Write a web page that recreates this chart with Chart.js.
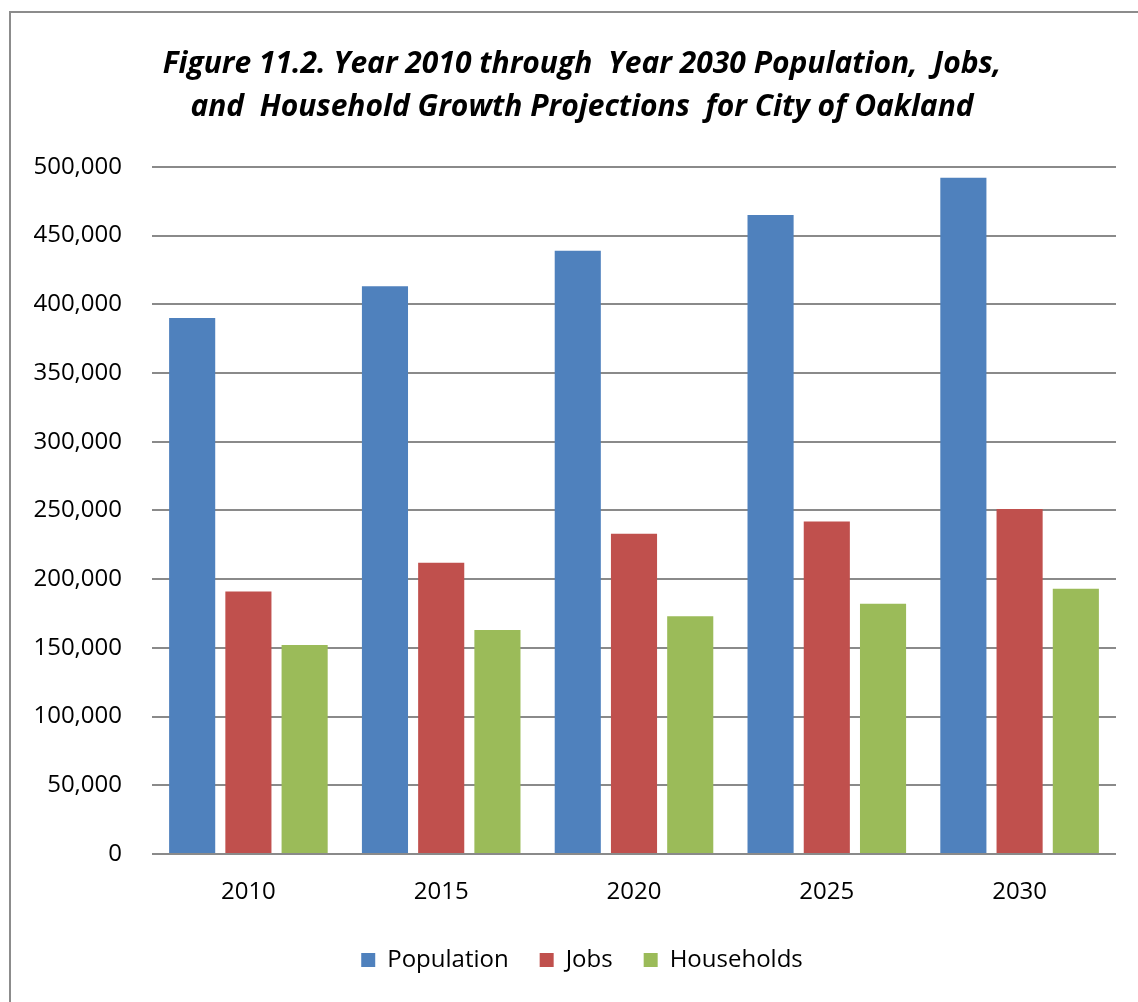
<!DOCTYPE html>
<html>
<head>
<meta charset="utf-8">
<script src="https://cdn.jsdelivr.net/npm/chart.js@4/dist/chart.umd.min.js"></script>
<style>
  html, body { margin: 0; padding: 0; background: #fff; overflow: hidden; }
  #frame { position: absolute; left: 9px; top: 11px; width: 1200px; height: 1100px;
           border-left: 2px solid #8c8c8c; border-top: 2px solid #8c8c8c; }
  #wrap { position: absolute; left: 0; top: 0; width: 1138px; height: 1002px; }
</style>
</head>
<body>
<div id="frame"></div>
<div id="wrap"><canvas id="growth"></canvas></div>
<script>
// categories and series
var years = ['2010', '2015', '2020', '2025', '2030'];
var population = [390000, 413000, 439000, 465000, 492000];
var jobs = [191000, 212000, 233000, 242000, 251000];
var households = [152000, 163000, 173000, 182000, 193000];
var yTicks = [0, 50000, 100000, 150000, 200000, 250000, 300000, 350000, 400000, 450000, 500000];

var titleLines = [
    'Figure 11.2. Year 2010 through  Year 2030 Population,  Jobs,',
    'and  Household Growth Projections  for City of Oakland'
];

var ctx = document.getElementById('growth');
var growthChart = new Chart(ctx, {
    type: 'bar',
    data: {
        labels: years,
        datasets: [
            { label: 'Population', data: population, backgroundColor: '#4F81BD' },
            { label: 'Jobs', data: jobs, backgroundColor: '#C0504D' },
            { label: 'Households', data: households, backgroundColor: '#9BBB59' }
        ]
    },
    options: {
        animation: false,
        responsive: true,
        maintainAspectRatio: false,
        // 一組的寬度
        categoryPercentage: 0.875,
        barPercentage: 0.82,
        layout: {
            padding: { top: 20, left: 48, right: 22, bottom: 20 }
        },
        plugins: {
            title: {
                display: true,
                text: titleLines,
                color: '#000',
                font: { family: 'Open Sans', size: 30, weight: 'bold', style: 'italic', lineHeight: 1.43 },
                padding: { top: 23, bottom: 38 }
            },
            legend: {
                position: 'bottom',
                labels: {
                    color: '#000',
                    font: { family: 'Open Sans', size: 24 },
                    boxWidth: 14,
                    boxHeight: 14,
                    padding: 31
                }
            },
            tooltip: { enabled: false }
        },
        scales: {
            y: {
                min: 0,
                max: 500000,
                afterFit: function (scale) {
                    scale.width = 104;
                    // labels are wider than the axis box, don't clip them
                    scale._computeLabelArea = function () { return null; };
                },
                afterBuildTicks: function (scale) {
                    scale.ticks = yTicks.map(function (v) { return { value: v }; });
                },
                ticks: {
                    color: '#000',
                    padding: 30,
                    font: { family: 'Open Sans', size: 24 },
                    callback: function (value) {
                        return Number(value).toLocaleString('en-US');
                    }
                },
                border: { display: false },
                grid: { color: '#8a8a8a', lineWidth: 2, drawTicks: false }
            },
            x: {
                afterFit: function (scale) { scale.height = 63; },
                ticks: {
                    color: '#000',
                    padding: 16,
                    font: { family: 'Open Sans', size: 24 }
                },
                border: { display: false },
                // 無網格
                grid: { display: false }
            }
        }
    }
});
</script>
</body>
</html>
